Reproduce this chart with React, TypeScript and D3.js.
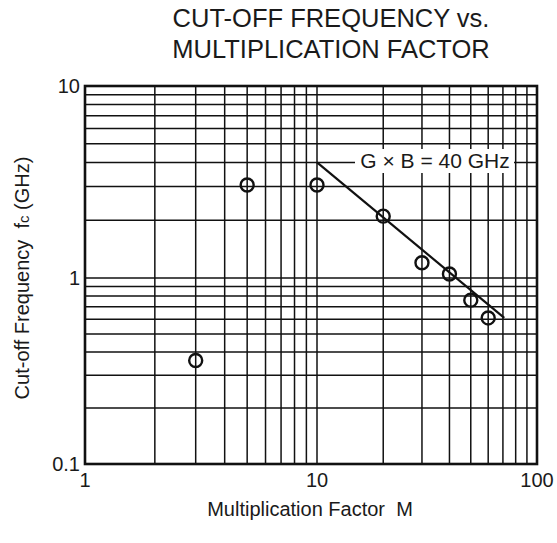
import React from "react";
import * as d3 from "d3";

const mValues = [3, 5, 10, 20, 30, 40, 50, 60];
const fcValues = [0.36, 3.05, 3.05, 2.1, 1.2, 1.05, 0.76, 0.61];
const gbLineM = [10, 71];
const gbLineFc = [4.0, 0.61];
const gbLabel = "G × B = 40 GHz";
const xTickLabels = ["1", "10", "100"];
const yTickLabels = ["0.1", "1", "10"];
const titleLines = ["CUT-OFF FREQUENCY vs.", "MULTIPLICATION FACTOR"];

const W = 557;
const H = 543;

export default function App() {
  const x = d3.scaleLog().domain([1, 10, 100]).range([85, 317, 537]);
  const y = d3.scaleLog().domain([0.1, 1, 10]).range([464, 278, 86]);
  const L = x(1), R = x(100), T = y(10), B = y(0.1);
  const xGrid: number[] = [];
  for (let d = 1; d < 100; d *= 10) for (let k = 1; k <= 9; k++) if (d * k > 1) xGrid.push(d * k);
  const yGrid: number[] = [];
  for (let d = 0.1; d < 9.99; d *= 10) for (let k = 1; k <= 9; k++) if (d * k > 0.1001) yGrid.push(d * k);
  const linePath = d3.line<number>()
    .x((m) => x(m))
    .y((_, i) => y(gbLineFc[i]))(gbLineM);
  const font = "'Liberation Sans', Arial, sans-serif";
  const ink = "#1a1a1a";
  return (
    <svg width={W} height={H} style={{ position: "absolute", left: 0, top: 0 }} fontFamily={font}>
      <rect x={0} y={0} width={W} height={H} fill="#fff" />
      {titleLines.map((t, i) => (
        <text key={t} x={331} y={27 + i * 31} textAnchor="middle" fontSize={25.5} fill={ink}>{t}</text>
      ))}
      <g stroke="#111" strokeWidth={1.5}>
        {xGrid.map((v) => (
          <line key={"x" + v} x1={x(v)} x2={x(v)} y1={T} y2={B} />
        ))}
        {yGrid.map((v) => (
          <line key={"y" + v} x1={L} x2={R} y1={y(v)} y2={y(v)} />
        ))}
      </g>
      <rect x={L} y={T} width={R - L} height={B - T} fill="none" stroke="#111" strokeWidth={2.6} />
      <path d={linePath || ""} fill="none" stroke="#111" strokeWidth={2.2} />
      <rect x={355} y={149} width={159} height={24} fill="#fff" />
      <text x={435} y={168} textAnchor="middle" fontSize={21} fill={ink}>{gbLabel}</text>
      {mValues.map((m, i) => (
        <circle key={m} cx={x(m)} cy={y(fcValues[i])} r={6.5} fill="none" stroke="#111" strokeWidth={2.4} />
      ))}
      {xTickLabels.map((t) => (
        <text key={"xt" + t} x={x(+t)} y={487} textAnchor="middle" fontSize={20} fill={ink}>{t}</text>
      ))}
      {yTickLabels.map((t) => (
        <text key={"yt" + t} x={L - 5} y={y(+t) + 7} textAnchor="end" fontSize={20} fill={ink}>{t}</text>
      ))}
      <text x={310} y={516} textAnchor="middle" fontSize={20} fill={ink} xmlSpace="preserve">Multiplication Factor  M</text>
      <text transform={`translate(29,${278}) rotate(-90)`} textAnchor="middle" fontSize={20} fill={ink} xmlSpace="preserve">
        Cut-off Frequency  f<tspan fontSize={15}>c</tspan> (GHz)
      </text>
    </svg>
  );
}
